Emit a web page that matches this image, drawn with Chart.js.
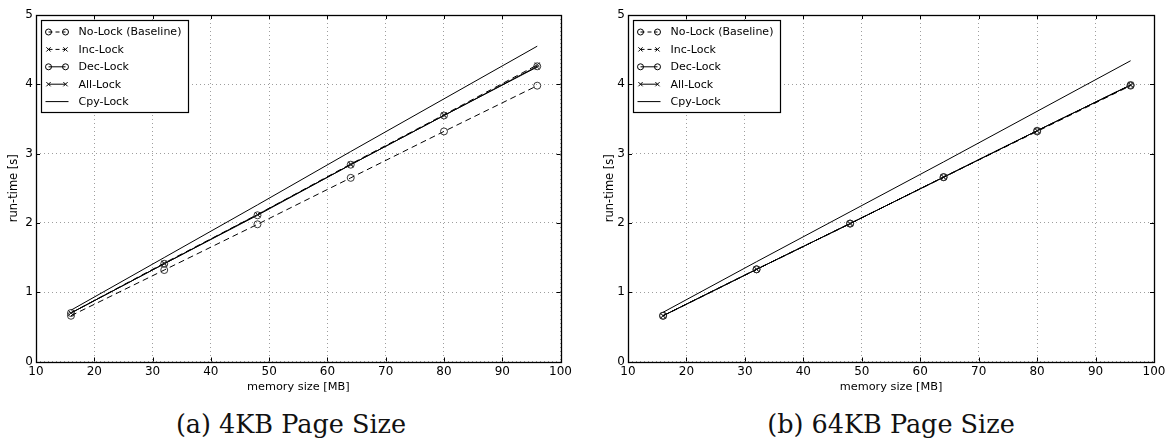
<!DOCTYPE html>
<html>
<head>
<meta charset="utf-8">
<script src="https://cdn.jsdelivr.net/npm/chart.js@4/dist/chart.umd.min.js"></script>
<style>
  body { margin: 0; background: #fff; width: 1169px; height: 441px; overflow: hidden; position: relative; }
  .wrap { position: absolute; top: 0; height: 400px; }
  #wrapA { left: 0; width: 575px; }
  #wrapB { left: 590px; width: 579px; }
  .cap { position: absolute; top: 409px; width: 400px; text-align: center; font-family: "DejaVu Serif"; font-size: 25.5px; color: #111; line-height: 30px; }
</style>
</head>
<body>
<div class="wrap" id="wrapA"><canvas id="chartA"></canvas></div>
<div class="wrap" id="wrapB"><canvas id="chartB"></canvas></div>
<div class="cap" style="left:91px">(a) 4KB Page Size</div>
<div class="cap" style="left:691px">(b) 64KB Page Size</div>
<script>
// memory size [MB]
const memSizes = [16, 32, 48, 64, 80, 96];
const seriesNames = ["No-Lock (Baseline)", "Inc-Lock", "Dec-Lock", "All-Lock", "Cpy-Lock"];
const xTicks = [10, 20, 30, 40, 50, 60, 70, 80, 90, 100];
const yTicks = [0, 1, 2, 3, 4, 5];

// (a) 4KB page size, run-time [s]
const noLock4k = [0.66, 1.32, 1.98, 2.65, 3.32, 3.98];
const incLock4k = [0.70, 1.42, 2.12, 2.85, 3.56, 4.28];
const decLock4k = [0.70, 1.41, 2.11, 2.84, 3.55, 4.26];
const allLock4k = [0.70, 1.41, 2.12, 2.84, 3.55, 4.25];
const cpyLock4k = [0.74, 1.50, 2.26, 3.03, 3.79, 4.55];

// (b) 64KB page size, run-time [s]
const noLock64k = [0.66, 1.33, 1.99, 2.66, 3.32, 3.98];
const incLock64k = [0.66, 1.33, 1.99, 2.66, 3.33, 3.99];
const decLock64k = [0.66, 1.33, 1.99, 2.66, 3.33, 3.99];
const allLock64k = [0.66, 1.33, 1.99, 2.66, 3.33, 3.99];
const cpyLock64k = [0.71, 1.44, 2.16, 2.88, 3.61, 4.34];

const styles = [
  { dash: [6, 4], point: "circle" },
  { dash: [6, 4], point: "crossRot" },
  { dash: [], point: "circle" },
  { dash: [], point: "crossRot" },
  { dash: [], point: false },
];

function toPoints(vals) {
  return memSizes.map((m, i) => ({ x: m, y: vals[i] }));
}

// box, inner ticks and matplotlib style legend
const framePlugin = {
  id: "frame",
  afterDatasetsDraw(chart) {
    const ctx = chart.ctx;
    const a = chart.chartArea;
    const xs = chart.scales.x, ys = chart.scales.y;
    ctx.save();
    ctx.strokeStyle = "#000";
    ctx.lineWidth = 1;
    ctx.setLineDash([]);
    ctx.beginPath();
    xTicks.forEach((t) => {
      const px = Math.round(xs.getPixelForValue(t)) + 0.5;
      ctx.moveTo(px, a.bottom); ctx.lineTo(px, a.bottom - 4);
      ctx.moveTo(px, a.top); ctx.lineTo(px, a.top + 4);
    });
    yTicks.forEach((t) => {
      const py = Math.round(ys.getPixelForValue(t)) + 0.5;
      ctx.moveTo(a.left, py); ctx.lineTo(a.left + 4, py);
      ctx.moveTo(a.right, py); ctx.lineTo(a.right - 4, py);
    });
    ctx.stroke();
    ctx.lineWidth = 1.3;
    ctx.strokeRect(Math.round(a.left) + 0.5, Math.round(a.top) + 0.5, Math.round(a.right - a.left), Math.round(a.bottom - a.top));

    // legend
    const bx = Math.round(a.left) + 5.5, by = Math.round(a.top) + 5.5;
    const bw = 147, bh = 92;
    ctx.fillStyle = "#fff";
    ctx.fillRect(bx, by, bw, bh);
    ctx.lineWidth = 1.2;
    ctx.strokeRect(bx, by, bw, bh);
    ctx.font = "11px 'DejaVu Sans'";
    ctx.textBaseline = "middle";
    chart.data.datasets.forEach((ds, i) => {
      const y = by + 11.5 + i * 17.4;
      const x1 = bx + 7, x2 = bx + 24;
      ctx.strokeStyle = "#000";
      ctx.lineWidth = 1;
      ctx.setLineDash(styles[i].dash.length ? [4, 3] : []);
      ctx.beginPath();
      ctx.moveTo(x1 - (styles[i].point ? 0 : 3), y);
      ctx.lineTo(x2 + (styles[i].point ? 0 : 3), y);
      ctx.stroke();
      ctx.setLineDash([]);
      if (styles[i].point) {
        ctx.fillStyle = "rgba(0,0,0,0)";
        [x1, x2].forEach((px) => {
          Chart.helpers.drawPoint(ctx, { pointStyle: styles[i].point, radius: 3, borderWidth: 0.8, rotation: 0 }, px, y);
        });
      }
      ctx.fillStyle = "#000";
      ctx.fillText(ds.label, bx + 37, y + 0.5);
    });
    ctx.restore();
  },
};

function makeChart(id, series, yWidth, titlePad) {
  const datasets = series.map((vals, i) => ({
    label: seriesNames[i],
    data: toPoints(vals),
    borderColor: "#000",
    borderWidth: 1,
    borderDash: styles[i].dash,
    pointStyle: styles[i].point || "circle",
    pointRadius: styles[i].point ? 3.5 : 0,
    pointBorderColor: "#222",
    pointBackgroundColor: "rgba(0,0,0,0)",
    pointBorderWidth: 0.9,
    fill: false,
    tension: 0,
  }));
  const gridOpts = { color: "rgba(0,0,0,0.38)", lineWidth: 1, drawTicks: false };
  return new Chart(document.getElementById(id), {
    type: "line",
    data: { datasets },
    options: {
      responsive: true,
      maintainAspectRatio: false,
      animation: false,
      layout: { padding: { top: 15, right: yWidth === 36 ? 14 : 15, left: 0, bottom: 0 } },
      plugins: { legend: { display: false }, tooltip: { enabled: false } },
      scales: {
        x: {
          type: "linear",
          min: 10,
          max: 100,
          afterBuildTicks: (s) => { s.ticks = xTicks.map((v) => ({ value: v })); },
          afterFit: (s) => { s.height = 38.5; },
          ticks: { color: "#000", font: { family: "DejaVu Sans", size: 12 }, padding: 3, maxRotation: 0 },
          grid: gridOpts,
          border: { display: false, dash: [1, 3] },
          title: { display: true, text: "memory size [MB]", color: "#000", font: { family: "DejaVu Sans", size: 11.3 }, padding: { top: 0, bottom: 6.5 } },
        },
        y: {
          type: "linear",
          min: 0,
          max: 5,
          afterBuildTicks: (s) => { s.ticks = yTicks.map((v) => ({ value: v })); },
          afterFit: (s) => { s.width = yWidth; },
          ticks: { color: "#000", font: { family: "DejaVu Sans", size: 12 }, padding: 3 },
          grid: gridOpts,
          border: { display: false, dash: [1, 3] },
          title: { display: true, text: "run-time [s]", color: "#000", font: { family: "DejaVu Sans", size: 11.5 }, padding: { top: titlePad, bottom: 0 } },
        },
      },
    },
    plugins: [framePlugin],
  });
}

makeChart("chartA", [noLock4k, incLock4k, decLock4k, allLock4k, cpyLock4k], 36, 7.4);
makeChart("chartB", [noLock64k, incLock64k, decLock64k, allLock64k, cpyLock64k], 38, 13);
</script>
</body>
</html>
